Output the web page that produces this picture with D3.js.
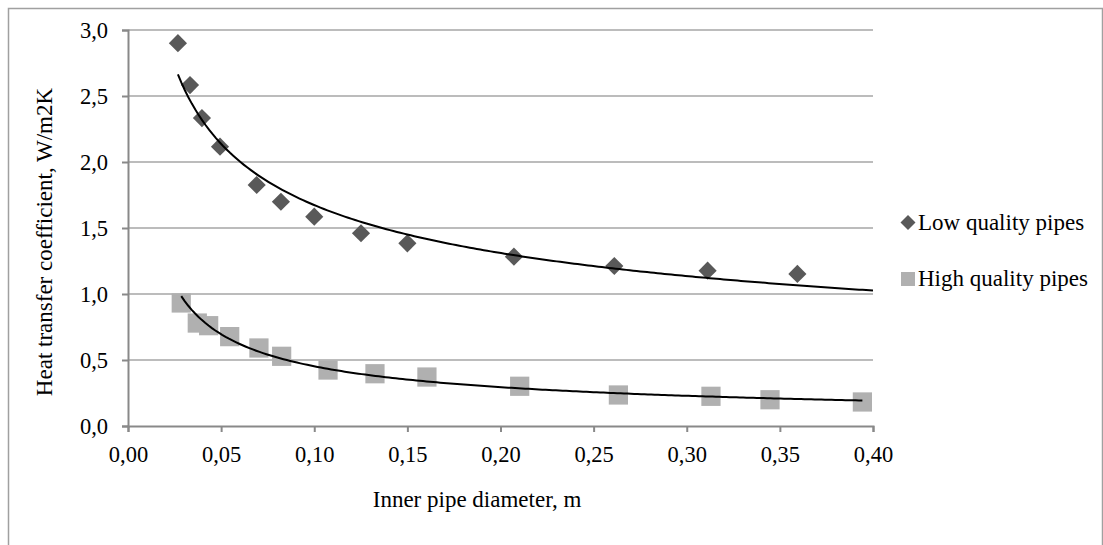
<!DOCTYPE html>
<html>
<head>
<meta charset="utf-8">
<script src="https://cdnjs.cloudflare.com/ajax/libs/d3/7.8.5/d3.min.js"></script>
<style>
  body { margin: 0; background: #fff; }
  svg text { font-family: "Liberation Serif", "Times New Roman", serif; }
</style>
</head>
<body>
<div id="chart"></div>
<script>
// data
var low_x = [0.0268, 0.0333, 0.0397, 0.0494, 0.0691, 0.0821, 0.1000, 0.1251, 0.1500, 0.2072, 0.2611, 0.3112, 0.3594];
var low_y = [2.90, 2.583, 2.333, 2.116, 1.826, 1.699, 1.586, 1.460, 1.384, 1.283, 1.212, 1.177, 1.152];
var high_x = [0.0286, 0.0372, 0.0433, 0.0546, 0.0703, 0.0825, 0.1074, 0.1326, 0.1605, 0.2103, 0.2633, 0.3130, 0.3447, 0.3943];
var high_y = [0.932, 0.780, 0.760, 0.677, 0.591, 0.528, 0.424, 0.396, 0.371, 0.301, 0.235, 0.225, 0.199, 0.182];
var x_ticks = [0, 0.05, 0.10, 0.15, 0.20, 0.25, 0.30, 0.35, 0.40];
var y_ticks = [0, 0.5, 1.0, 1.5, 2.0, 2.5, 3.0];
var series_names = ["Low quality pipes", "High quality pipes"];

// set the dimensions and margins of the graph
var margin = { top: 30, right: 230, bottom: 119, left: 128 },
  width = 1103 - margin.left - margin.right,
  height = 545 - margin.top - margin.bottom;

var svgRoot = d3.select("#chart")
  .append("svg")
  .attr("width", 1103)
  .attr("height", 545);

// outer chart border (only top and left are in frame)
svgRoot.append("rect")
  .attr("x", 8.5)
  .attr("y", 8.5)
  .attr("width", 1094)
  .attr("height", 560)
  .attr("fill", "none")
  .attr("stroke", "#a0a0a0")
  .attr("stroke-width", 1.5);

var svg = svgRoot.append("g")
  .attr("transform", "translate(" + margin.left + "," + margin.top + ")");

var commaFmt = function (digits) {
  return function (d) { return d.toFixed(digits).replace(".", ","); };
};

var x = d3.scaleLinear().domain([0, 0.40]).range([0, width]);
var y = d3.scaleLinear().domain([0, 3.0]).range([height, 0]);

// horizontal gridlines
svg.append("g")
  .selectAll("line")
  .data(y_ticks.filter(function (d) { return d > 0; }))
  .enter()
  .append("line")
  .attr("x1", 0)
  .attr("x2", width)
  .attr("y1", function (d) { return y(d); })
  .attr("y2", function (d) { return y(d); })
  .attr("stroke", "#a6a6a6")
  .attr("stroke-width", 1.4);

// X axis
svg.append("g")
  .attr("transform", "translate(0," + height + ")")
  .call(d3.axisBottom(x).tickValues(x_ticks).tickFormat(commaFmt(2)).tickSizeOuter(0).tickSize(6).tickPadding(14));

// Y axis
svg.append("g")
  .call(d3.axisLeft(y).tickValues(y_ticks).tickFormat(commaFmt(1)).tickSizeOuter(0).tickSize(6).tickPadding(14));

svg.selectAll(".domain").style("stroke", "#898989").style("stroke-width", 2);
svg.selectAll(".tick line").style("stroke", "#898989").style("stroke-width", 2);
svg.selectAll(".tick text")
  .style("fill", "#000")
  .style("font-size", "22.5px")
  .style("font-family", "Liberation Serif");

// power trendline, least squares in log-log space (like Excel)
function powerFit(xs, ys) {
  var lx = xs.map(Math.log), ly = ys.map(Math.log);
  var mx = d3.mean(lx), my = d3.mean(ly);
  var sxy = d3.sum(lx, function (v, i) { return (v - mx) * (ly[i] - my); });
  var sxx = d3.sum(lx, function (v) { return (v - mx) * (v - mx); });
  var b = sxy / sxx;
  var a = Math.exp(my - b * mx);
  return function (v) { return a * Math.pow(v, b); };
}

var line = d3.line()
  .x(function (d) { return x(d[0]); })
  .y(function (d) { return y(d[1]); });

function trend(xs, ys, x0, x1) {
  var f = powerFit(xs, ys);
  var pts = d3.range(0, 201).map(function (i) {
    var v = x0 + (x1 - x0) * i / 200;
    return [v, f(v)];
  });
  svg.append("path")
    .datum(pts)
    .attr("d", line)
    .attr("fill", "none")
    .attr("stroke", "#000")
    .attr("stroke-width", 2);
}

// markers
var diamond = d3.symbol().type(d3.symbolSquare).size(165);
var square = d3.symbol().type(d3.symbolSquare).size(370);

svg.append("g")
  .selectAll("path")
  .data(high_x.map(function (v, i) { return [v, high_y[i]]; }))
  .enter()
  .append("path")
  .attr("d", square)
  .attr("transform", function (d) { return "translate(" + x(d[0]) + "," + y(d[1]) + ")"; })
  .attr("fill", "#b0b0b0");

svg.append("g")
  .selectAll("path")
  .data(low_x.map(function (v, i) { return [v, low_y[i]]; }))
  .enter()
  .append("path")
  .attr("d", diamond)
  .attr("transform", function (d) { return "translate(" + x(d[0]) + "," + y(d[1]) + ") rotate(45)"; })
  .attr("fill", "#595959");

trend(low_x, low_y, d3.min(low_x), 0.40);
trend(high_x, high_y, d3.min(high_x), d3.max(high_x));

// axis titles
svgRoot.append("text")
  .attr("x", 477)
  .attr("y", 507)
  .attr("text-anchor", "middle")
  .style("font-size", "23px")
  .style("fill", "#000")
  .text("Inner pipe diameter, m");

svgRoot.append("text")
  .attr("transform", "translate(52,242) rotate(-90)")
  .attr("text-anchor", "middle")
  .style("font-size", "23px")
  .style("fill", "#000")
  .text("Heat transfer coefficient, W/m2K");

// legend
var legend = svgRoot.append("g");
legend.append("path")
  .attr("d", d3.symbol().type(d3.symbolSquare).size(112))
  .attr("transform", "translate(908,222.5) rotate(45)")
  .attr("fill", "#595959");
legend.append("text")
  .attr("x", 918)
  .attr("y", 230)
  .style("font-size", "23px")
  .style("fill", "#000")
  .text(series_names[0]);
legend.append("rect")
  .attr("x", 901)
  .attr("y", 272)
  .attr("width", 14)
  .attr("height", 14)
  .attr("fill", "#b0b0b0");
legend.append("text")
  .attr("x", 918)
  .attr("y", 286)
  .style("font-size", "23px")
  .style("fill", "#000")
  .text(series_names[1]);
</script>
</body>
</html>
